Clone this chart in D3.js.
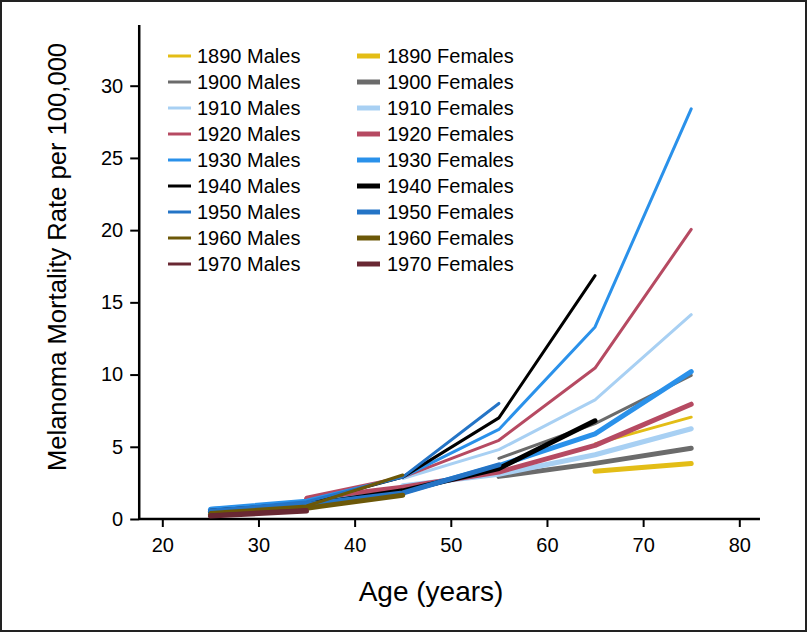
<!DOCTYPE html>
<meta charset="utf-8">
<style>
body { margin: 0; background: #fff; }
svg text { font-family: "Liberation Sans", Arial, sans-serif; fill: #000; }
</style>
<body>
<script src="https://cdn.jsdelivr.net/npm/d3@7"></script>
<script>
// age groups (x) and birth cohorts
var ages = [25, 35, 45, 55, 65, 75];
var cohorts = ["1890", "1900", "1910", "1920", "1930", "1940", "1950", "1960", "1970"];
var cohortColors = ["#e3bd16", "#6b6b6b", "#a8d0f3", "#b64a62", "#2a91ea", "#000000", "#2474c6", "#6c5808", "#692833"];

// mortality rate per 100,000, one row per cohort, null where not observed
var maleRates = [
  [null, null, null, null, 5.2, 7.05],
  [null, null, null, 4.2, 6.6, 9.95],
  [null, null, 2.8, 4.8, 8.25, 14.15],
  [null, 1.5, 2.9, 5.45, 10.45, 20.05],
  [0.75, 1.3, 2.9, 6.2, 13.3, 28.4],
  [0.6, 1.1, 2.9, 7.0, 16.85, null],
  [0.55, 1.2, 2.9, 8.0, null, null],
  [0.45, 0.9, 3.05, null, null, null],
  [0.3, 0.65, null, null, null, null]
];
var femaleRates = [
  [null, null, null, null, 3.3, 3.85],
  [null, null, null, 2.95, 3.85, 4.9],
  [null, null, 2.3, 3.1, 4.45, 6.25],
  [null, 1.4, 2.2, 3.25, 5.1, 7.95],
  [0.65, 1.05, 1.85, 3.7, 5.9, 10.2],
  [0.5, 0.95, 1.95, 3.5, 6.8, null],
  [0.55, 1.0, 1.8, 3.75, null, null],
  [0.3, 0.75, 1.65, null, null, null],
  [0.2, 0.55, null, null, null, null]
];
var xTicks = [20, 30, 40, 50, 60, 70, 80];
var yTicks = [0, 5, 10, 15, 20, 25, 30];

var W = 809, H = 634;
var svg = d3.select("body").append("svg")
    .attr("width", W)
    .attr("height", H);

// frame
svg.append("rect")
    .attr("x", 1).attr("y", 1)
    .attr("width", W - 4).attr("height", H - 4)
    .attr("fill", "none")
    .attr("stroke", "#222")
    .attr("stroke-width", 2);

var x = d3.scaleLinear().domain([20, 80]).range([162.3, 739.3]);
var y = d3.scaleLinear().domain([0, 30]).range([519, 85.7]);

// x axis
var gx = svg.append("g")
    .attr("transform", "translate(0," + y(0) + ")")
    .call(d3.axisBottom(x).tickValues(xTicks).tickSize(8).tickPadding(11));
gx.select(".domain").remove();
gx.selectAll(".tick line").attr("stroke", "#000").attr("stroke-width", 2);
gx.selectAll(".tick text").style("font-size", "20px");
gx.append("line")
    .attr("x1", x(17.6)).attr("x2", x(82.15))
    .attr("stroke", "#000").attr("stroke-width", 2.5);

// y axis
var gy = svg.append("g")
    .attr("transform", "translate(" + x(17.6) + ",0)")
    .call(d3.axisLeft(y).tickValues(yTicks).tickSize(9).tickPadding(7));
gy.select(".domain").remove();
gy.selectAll(".tick line").attr("stroke", "#000").attr("stroke-width", 2);
gy.selectAll(".tick text").style("font-size", "20px");
gy.append("line")
    .attr("y1", y(0) + 1).attr("y2", y(34.2))
    .attr("stroke", "#000").attr("stroke-width", 2.5);

// lines
var line = d3.line()
    .defined(function(d) { return d.v != null; })
    .x(function(d) { return x(d.age); })
    .y(function(d) { return y(d.v); });

function series(row) {
  return ages.map(function(a, i) { return {age: a, v: row[i]}; });
}

cohorts.forEach(function(c, i) {
  svg.append("path")
      .datum(series(maleRates[i]))
      .attr("d", line)
      .attr("fill", "none")
      .attr("stroke", cohortColors[i])
      .attr("stroke-width", 3)
      .attr("stroke-linecap", "round")
      .attr("stroke-linejoin", "round");
  svg.append("path")
      .datum(series(femaleRates[i]))
      .attr("d", line)
      .attr("fill", "none")
      .attr("stroke", cohortColors[i])
      .attr("stroke-width", 5)
      .attr("stroke-linecap", "round")
      .attr("stroke-linejoin", "round");
});

// legend
var legend = svg.append("g");
cohorts.forEach(function(c, i) {
  var ly = 56 + i * 26;
  legend.append("line")
      .attr("x1", 168).attr("x2", 191).attr("y1", ly).attr("y2", ly)
      .attr("stroke", cohortColors[i]).attr("stroke-width", 3);
  legend.append("text")
      .attr("x", 197).attr("y", ly).attr("dy", "0.36em")
      .style("font-size", "20px")
      .text(c + " Males");
  legend.append("line")
      .attr("x1", 357).attr("x2", 380).attr("y1", ly).attr("y2", ly)
      .attr("stroke", cohortColors[i]).attr("stroke-width", 5);
  legend.append("text")
      .attr("x", 387).attr("y", ly).attr("dy", "0.36em")
      .style("font-size", "20px")
      .text(c + " Females");
});

// axis titles
svg.append("text")
    .attr("text-anchor", "middle")
    .attr("x", 431).attr("y", 601)
    .style("font-size", "28px")
    .text("Age (years)");

svg.append("text")
    .attr("text-anchor", "middle")
    .attr("transform", "translate(66,257) rotate(-90)")
    .style("font-size", "25.6px")
    .text("Melanoma Mortality Rate per 100,000");
</script>
</body>
